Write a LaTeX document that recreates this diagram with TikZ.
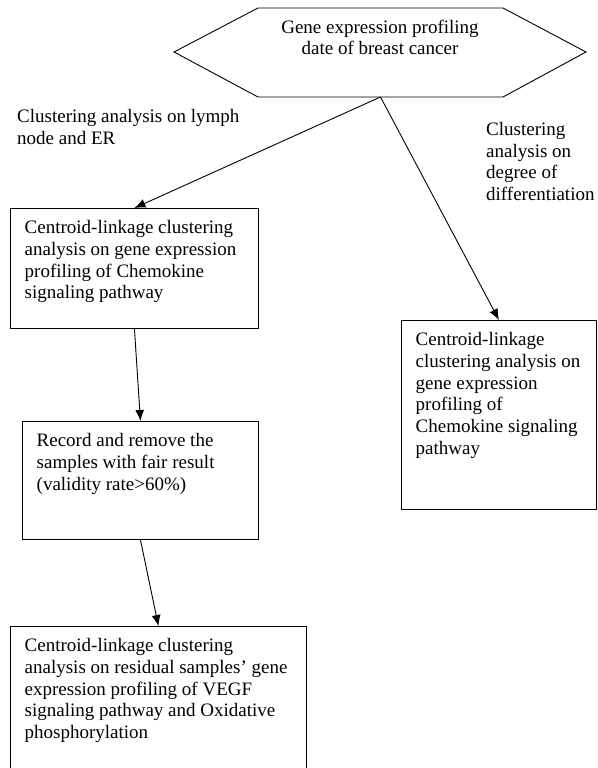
\documentclass[tikz,border=0pt]{standalone}
\usepackage{fontspec}
\setmainfont{Liberation Serif}
\usetikzlibrary{positioning,arrows.meta}
\begin{document}
\begin{tikzpicture}[x=1pt,y=-1pt,
  frame/.style={draw,line width=0.9pt,anchor=north west,inner sep=0pt},
  txt/.style={align=left,inner sep=0pt,font=\fontsize{19}{21.7}\selectfont},
  arr/.style={line width=0.9pt,-{Latex[length=11pt,width=9pt]}}]
  \clip (0,0) rectangle (597,768);
  % data source on top
  \draw[line width=0.9pt] (174,52) -- (258,8) -- (503,8) -- (586,52) -- (503,97) -- (258,97) -- cycle;
  \node[txt,align=center,anchor=north,font=\fontsize{19}{20.5}\selectfont] (title) at (380,20) {Gene expression profiling\\date of breast cancer};
  \coordinate (hexb) at (380.5,97);
  \node[txt,anchor=north west] (lymph) at (17,109) {Clustering analysis on lymph\\node and ER};
  \node[txt,anchor=north west] (diff) at (486,122) {Clustering\\analysis on\\degree of\\differentiation};
  % boxes
  \node[frame,minimum width=248pt,minimum height=120pt] (box1) at (10,208) {};
  \node[frame,minimum width=236pt,minimum height=118pt] (box2) at (22,421) {};
  \node[frame,minimum width=296pt,minimum height=180pt] (box3) at (10,626) {};
  \node[frame,minimum width=195pt,minimum height=189pt] (box4) at (401,320) {};
  \node[txt,below right=12.5pt and 14.5pt of box1.north west] (box1t) {Centroid-linkage clustering\\analysis on gene expression\\profiling of Chemokine\\signaling pathway};
  \node[txt,below right=12.5pt and 14.5pt of box2.north west] (box2t) {Record and remove the\\samples with fair result\\(validity rate>60\%)};
  \node[txt,below right=12.5pt and 14.5pt of box3.north west] (box3t) {Centroid-linkage clustering\\analysis on residual samples’ gene\\expression profiling of VEGF\\signaling pathway and Oxidative\\phosphorylation};
  \node[txt,below right=12.5pt and 14.5pt of box4.north west] (box4t) {Centroid-linkage\\clustering analysis on\\gene expression\\profiling of\\Chemokine signaling\\pathway};
  % arrows
  \draw[arr] (hexb) -- (box1.north);
  \draw[arr] (hexb) -- (box4.north);
  \draw[arr] (box1.south) -- (box2.north);
  \draw[arr] (box2.south) -- (box3.north);
\end{tikzpicture}
\end{document}
